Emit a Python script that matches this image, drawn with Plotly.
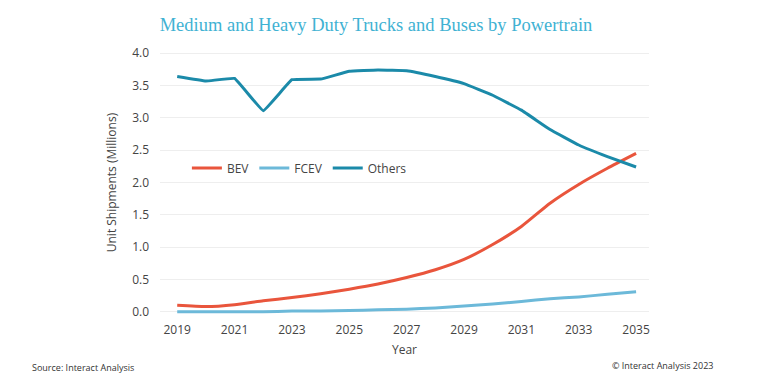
import plotly.graph_objects as go

years = list(range(2019, 2036))
bev = [0.10, 0.08, 0.11, 0.17, 0.22, 0.28, 0.35, 0.43, 0.53, 0.65, 0.81, 1.04, 1.32, 1.68, 1.97, 2.22, 2.45]
fcev = [0.00, 0.00, 0.00, 0.00, 0.01, 0.01, 0.02, 0.03, 0.04, 0.06, 0.09, 0.12, 0.16, 0.20, 0.23, 0.27, 0.31]
others = [3.64, 3.57, 3.61, 3.11, 3.59, 3.60, 3.72, 3.74, 3.73, 3.64, 3.53, 3.35, 3.12, 2.82, 2.58, 2.40, 2.24]

series = [("BEV", bev, "#e9553c", 0.5), ("FCEV", fcev, "#6cb9d9", 0.5), ("Others", others, "#1b8aa9", 0.2)]

fig = go.Figure()
for name, vals, color, sm in series:
    fig.add_trace(go.Scatter(x=years, y=vals, name=name, mode="lines",
                             line=dict(color=color, width=3, shape="spline", smoothing=sm)))

font_sans = "Open Sans, Noto Sans, sans-serif"
fig.update_layout(
    width=768, height=380,
    margin=dict(l=160, r=119, t=50, b=65, autoexpand=False),
    paper_bgcolor="white", plot_bgcolor="white",
    font=dict(family=font_sans, size=12, color="#444444"),
    title=dict(text="Medium and Heavy Duty Trucks and Buses by Powertrain",
               font=dict(family="Liberation Serif, DejaVu Serif, serif", size=18.5, color="#3fb2d3"),
               x=376/768, xanchor="center", y=1-25/380, yanchor="middle"),
    showlegend=True,
    legend=dict(orientation="h", x=0.055, y=0.555, xanchor="left", yanchor="middle",
                bgcolor="rgba(0,0,0,0)", font=dict(size=12, color="#444444"),
                itemwidth=30, tracegroupgap=0),
    xaxis=dict(range=[2018.4, 2035.45], tickmode="array", tickvals=years[::2],
               ticktext=[str(y) for y in years[::2]], showgrid=False, zeroline=False,
               showline=False, ticks="", ticklabelstandoff=6, automargin=False,
               title=dict(text="Year", standoff=8, font=dict(size=12, color="#444444")),
               tickfont=dict(size=12, color="#444444")),
    yaxis=dict(range=[-0.05, 4.05], tickmode="array", tickvals=[0, 0.5, 1, 1.5, 2, 2.5, 3, 3.5, 4],
               ticktext=["0.0", "0.5", "1.0", "1.5", "2.0", "2.5", "3.0", "3.5", "4.0"],
               showgrid=True, gridcolor="#eeeeee", gridwidth=1, zeroline=False, showline=False,
               ticks="", ticklabelstandoff=10, automargin=False,
               title=dict(text="Unit Shipments (Millions)", standoff=12, font=dict(size=12, color="#444444")),
               tickfont=dict(size=12, color="#444444")),
)
fig.add_annotation(text="Source: Interact Analysis", xref="paper", yref="paper",
                   x=-130/489, y=-(367-315)/265, xanchor="left", yanchor="middle",
                   showarrow=False, font=dict(size=9, color="#333333"))
fig.add_annotation(text="© Interact Analysis 2023", xref="paper", yref="paper",
                   x=(715-160)/489, y=-(365-315)/265, xanchor="right", yanchor="middle",
                   showarrow=False, font=dict(size=9, color="#333333"))
fig.write_html("out.html", config={"displayModeBar": False},
               post_script="document.body.style.margin='0';")
